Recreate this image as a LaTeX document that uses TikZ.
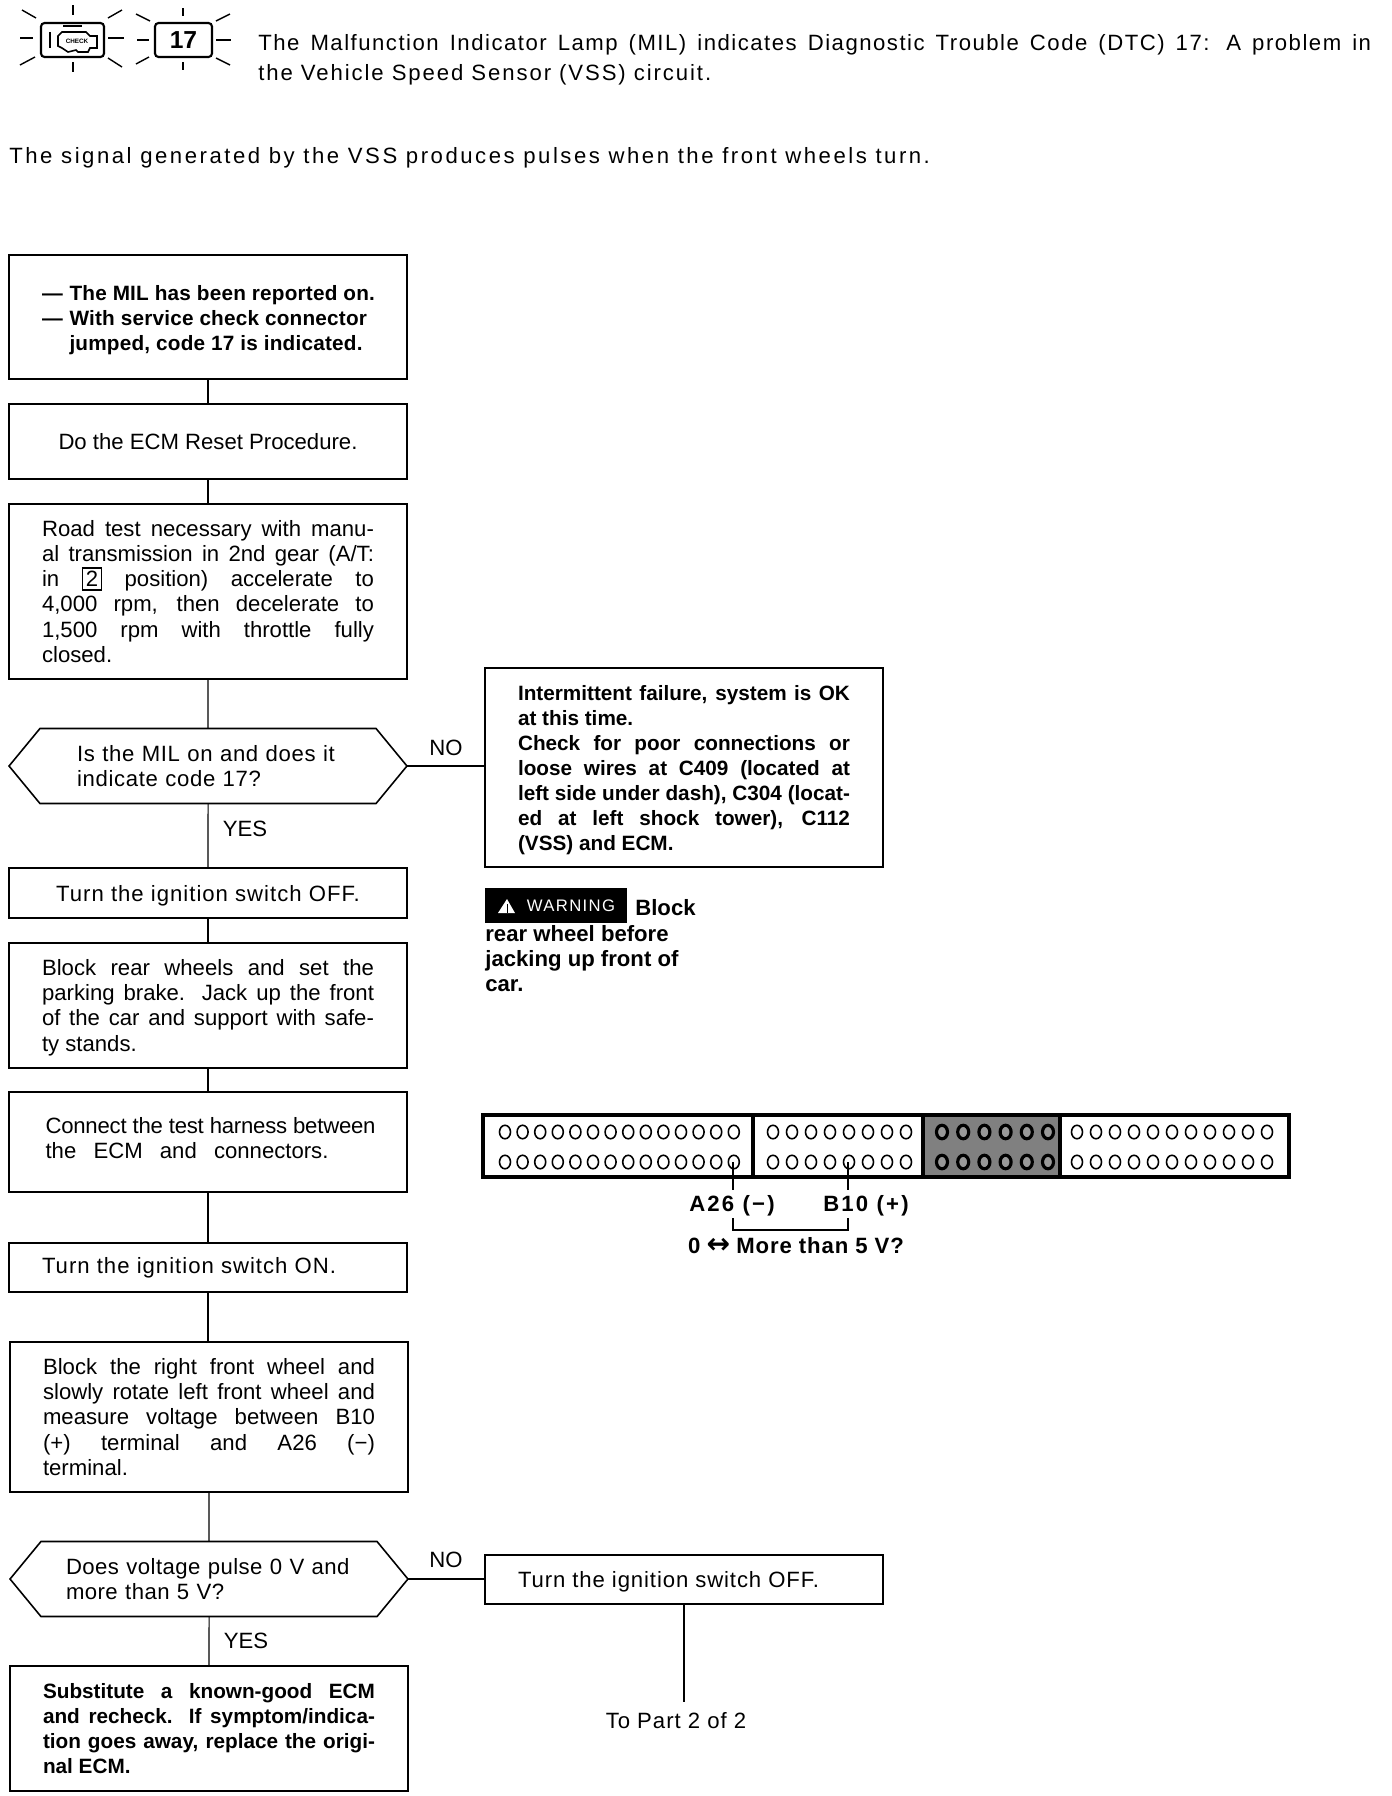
\documentclass[tikz,border=0pt]{standalone}
\usepackage{fontspec}
\setmainfont{Liberation Sans}
\newfontfamily\arrowfont{DejaVu Sans}
\usetikzlibrary{positioning, shapes.symbols, shapes.geometric, calc}
\newcommand{\track}[2]{{\addfontfeature{LetterSpace=#1}#2}}

\begin{document}
\begin{tikzpicture}[
  x=0.02cm, y=-0.02cm,
  font=\fontsize{12.6}{14.3}\selectfont,
  block/.style={draw, line width=1.1pt, minimum width=7.96cm, text width=6.64cm, align=justify, inner sep=0pt, outer sep=0pt},
  boldblock/.style={block, font=\fontsize{11.8}{14.3}\selectfont\bfseries},
  decision/.style={draw, line width=0.9pt, signal, signal to=west and east, signal pointer angle=101, minimum width=7.96cm, minimum height=1.5cm, align=left, inner sep=0pt, outer sep=0pt},
  lamp/.style={draw, line width=1.2pt, rounded corners=2pt, inner sep=0pt, outer sep=0pt},
  ray/.style={line width=0.8pt},
  link/.style={line width=0.6pt},
  plain/.style={inner sep=0pt},
  boldplain/.style={plain, font=\fontsize{12.6}{14.3}\selectfont\bfseries},
  slot/.style={draw, line width=1.9pt, minimum height=1.24cm, inner sep=0pt, outer sep=0pt},
  hole/.style={draw, ellipse, line width=0.9pt, minimum width=0.22cm, minimum height=0.27cm, inner sep=0pt},
  lead/.style={line width=1.5pt}
]
  \path[fill=white] (0,0) rectangle (1392,1796);

  % Header — lamps
  \node[lamp, minimum width=1.26cm, minimum height=0.68cm] (mil) at (72.5,40) {};
  \node[lamp, minimum width=1.14cm, minimum height=0.68cm, font=\fontsize{14}{14}\selectfont\bfseries] (code) at (183.5,40) {17};
  \foreach \xa/\ya/\xb/\yb in {73/5/73/15, 73/62/73/72, 20/38/33/38, 108/38/124/38, 22/10/36/18, 108/18/122/10, 20/65/35/57, 108/58/122/67,
    183/8/183/16, 183/62/183/70, 137/40/149/40, 216/40/231/40, 136/14/150/21, 216/21/230/14, 136/64/149/57, 216/58/230/65}
    \draw[ray] (\xa,\ya) -- (\xb,\yb);

  % engine symbol
  \draw[line width=0.9pt] (58,36) -- (62,32) -- (86,32) -- (90,36) -- (97,36) -- (97,48) -- (90,48) -- (88,52) -- (78,52) -- (76,50) -- (68,52) -- (62,48) -- (58,46) -- cycle;
  \draw[line width=1pt] (63,26) -- (82,26);
  \draw[line width=1.2pt] (50,32) -- (50,48);
  \node[plain, font=\fontsize{3.6}{4}\selectfont\bfseries] (check) at (77,41) {CHECK};

  % Header — text
  \node[plain, anchor=west, align=left, font=\fontsize{12.6}{17}\selectfont] (intro) at (258,60) {\makebox[22.26cm][s]{\track{6.8}{The Malfunction Indicator Lamp (MIL) indicates Diagnostic Trouble Code (DTC) 17: A problem in}}\\\track{8.6}{the Vehicle Speed Sensor (VSS) circuit.}};
  \node[plain, anchor=west] (signaltext) at (9,158) {\track{11.4}{The signal generated by the VSS produces pulses when the front wheels turn.}};

  % Left column
  \node[boldblock, minimum height=2.48cm] (reported) at (208,317) {\rule{0pt}{12.5pt}\mbox{\makebox[0.55cm][l]{—}\track{1}{The MIL has been reported on.}}\\\mbox{\makebox[0.55cm][l]{—}\track{1}{With service check connector}}\\\mbox{\hspace*{0.55cm}\track{1}{jumped, code 17 is indicated.}}};
  \node[block, minimum height=1.5cm] (reset) at (208,441.5) {\centering Do the ECM Reset Procedure.\par};
  \node[block, minimum height=3.5cm] (roadtest) at (208,591.5) {Road test necessary with manu-\linebreak al transmission in 2nd gear (A/T:\linebreak in {\setlength{\fboxsep}{1.5pt}\setlength{\fboxrule}{0.8pt}\fbox{2}} position) accelerate to\linebreak 4,000 rpm, then decelerate to\linebreak 1,500 rpm with throttle fully\linebreak closed.};
  \node[decision, text width=5.24cm] (milon) at (208,766) {\track{3}{Is the MIL on and does it}\\\track{3}{indicate code 17?}};
  \node[block, minimum height=1cm] (turnoff) at (208,893) {\centering\rule{0pt}{12.5pt}\track{4.5}{Turn the ignition switch OFF.}\par};
  \node[block, minimum height=2.5cm] (blockrear) at (208,1005.5) {\rule{0pt}{11.5pt}Block rear wheels and set the\linebreak parking brake. Jack up the front\linebreak of the car and support with safe-\linebreak ty stands.};
  \node[block, minimum height=2cm] (harness) at (208,1142) {\mbox{\hspace*{2pt}\track{-1}{Connect the test harness between}}\\\hspace*{2pt}\makebox[5.66cm][s]{the ECM and connectors.}\rule[-4.6pt]{0pt}{4.6pt}};
  \node[block, minimum height=0.98cm] (turnon) at (208,1267.5) {\track{4.5}{Turn the ignition switch ON.}};
  \node[block, minimum height=3cm] (rotate) at (209,1417) {Block the right front wheel and\linebreak slowly rotate left front wheel and\linebreak measure voltage between B10\linebreak (+) terminal and A26 (−)\linebreak terminal.};
  \node[decision, text width=5.72cm] (pulse) at (209,1579) {\track{2}{Does voltage pulse 0 V and}\\\track{2}{more than 5 V?}};
  \node[boldblock, minimum height=2.5cm] (substitute) at (209,1728.5) {Substitute a known-good ECM\linebreak and recheck. If symptom/indica-\linebreak tion goes away, replace the origi-\linebreak nal ECM.};

  % Right column
  \node[boldblock, minimum height=3.98cm] (failure) at (684,767.5) {\rule{0pt}{11.5pt}Intermittent failure, system is OK\linebreak at this time.\\Check for poor connections or\linebreak loose wires at C409 (located at\linebreak left side under dash), C304 (locat-\linebreak ed at left shock tower), C112\linebreak (VSS) and ECM.};
  \node[block, minimum height=0.98cm] (turnoffb) at (684,1579.5) {\rule{0pt}{12pt}\track{4}{Turn the ignition switch OFF.}};
  \node[plain, outer sep=6pt] (topart) at (676,1721) {\track{4.4}{To Part 2 of 2}};

  % Warning
  \node[fill=black, text=white, minimum width=2.84cm, minimum height=0.7cm, inner sep=0pt, font=\fontsize{9.5}{10}\selectfont\addfontfeature{LetterSpace=8}] (warnlabel) at (556,905.5) {\hspace*{0.6cm}WARNING};
  \fill[white] (507,899) -- (515,913) -- (498,913) -- cycle;
  \draw[black, line width=0.5pt] (507,904) -- (507,913);
  \node[boldplain, anchor=west] (warnblock) at (635,908) {Block};
  \node[boldplain, anchor=north west, align=left] (warntext) at (485,925) {rear wheel before\\jacking up front of\\car.};

  % ECM connector
  \node[slot, minimum width=5.4cm] (secA) at (618,1146) {};
  \node[slot, minimum width=3.4cm] (secB) at (838,1146) {};
  \node[slot, minimum width=2.74cm, fill=black!50] (secC) at (991.5,1146) {};
  \node[slot, minimum width=4.58cm] (secD) at (1174.5,1146) {};
  \foreach \row in {1132,1162} {
    \foreach \i in {0,...,13} \node[hole] at ({505+\i*17.6},\row) {};
    \foreach \i in {0,...,7} \node[hole] at ({773+\i*19},\row) {};
    \foreach \i in {0,...,5} \node[hole, fill=black!40, line width=1.8pt] at ({942+\i*21.2},\row) {};
    \foreach \i in {0,...,10} \node[hole] at ({1077+\i*19},\row) {};
  }
  \coordinate (pinA) at (733,1162);
  \coordinate (pinB) at (848,1162);
  \coordinate (bracketA) at (733,1218);
  \coordinate (bracketB) at (848,1218);
  \draw[lead] (pinA) -- ++(0,28);
  \draw[lead] (pinB) -- ++(0,28);
  \draw[lead] (bracketA) -- ++(0,12) -| (bracketB);
  \node[boldplain] (termA) at (732,1206) {\track{10}{A26 (−)}};
  \node[boldplain] (termB) at (866,1206) {\track{10}{B10 (+)}};
  \node[boldplain] (swing) at (796,1246) {0 {\arrowfont\fontsize{16}{16}\selectfont ↔} \track{4}{More than 5 V?}};

  % links
  \draw[link] (reported) -- (reset);
  \draw[link] (reset) -- (roadtest);
  \draw[link] (roadtest) -- (milon);
  \draw[link] (milon) -- (turnoff);
  \draw[link] (turnoff) -- (blockrear);
  \draw[link] (blockrear) -- (harness);
  \draw[link] (harness) -- (turnon);
  \draw[link] (turnon.south) -- (turnon.south |- rotate.north);
  \draw[link] (rotate) -- (pulse);
  \draw[link] (pulse) -- (substitute);
  \draw[link] (milon.east) -- (milon.east -| failure.west);
  \draw[link] (pulse.east) -- (pulse.east -| turnoffb.west);
  \draw[link] (turnoffb.south) -- (turnoffb.south |- topart.north);

  \node[plain] (noa) at (446,748) {NO};
  \node[plain] (yesa) at (245,829) {YES};
  \node[plain] (nob) at (446,1560) {NO};
  \node[plain] (yesb) at (246,1641) {YES};
\end{tikzpicture}
\end{document}
